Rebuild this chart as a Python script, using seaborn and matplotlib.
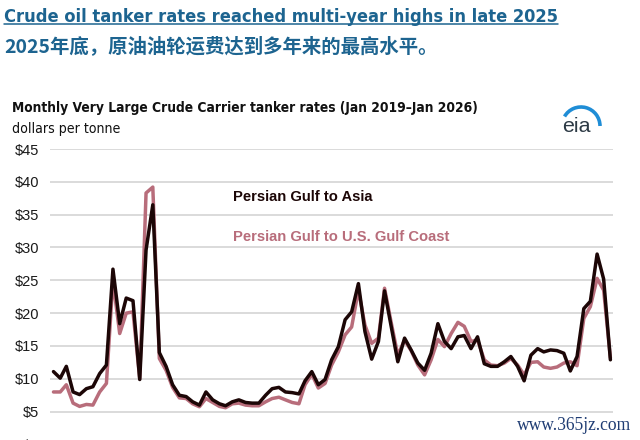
import numpy as np
import pandas as pd
import matplotlib
matplotlib.use("Agg")
import matplotlib.pyplot as plt
import seaborn as sns
from matplotlib.patches import Arc
from matplotlib.lines import Line2D

# ---------------- data (dollars per tonne, Jan 2019 - Jan 2026) ----------------
months = pd.date_range("2019-01-01", periods=85, freq="MS")

asia = [11.1, 10.1, 11.9, 8.0, 7.6, 8.5, 8.8, 10.8, 12.1, 26.7,
        18.4, 22.3, 21.9, 9.9, 29.6, 36.5, 14.0, 11.9, 9.1, 7.5,
        7.3, 6.5, 6.0, 8.0, 6.8, 6.2, 5.9, 6.5, 6.8, 6.4,
        6.3, 6.3, 7.5, 8.5, 8.7, 8.0, 7.9, 7.7, 9.7, 11.1,
        9.1, 9.9, 12.9, 14.9, 19.0, 20.2, 24.5, 17.2, 13.0, 15.7,
        23.4, 17.9, 12.6, 16.2, 14.4, 12.4, 11.3, 13.9, 18.4, 15.7,
        14.6, 16.4, 16.6, 14.6, 16.4, 12.3, 11.9, 11.9, 12.6, 13.4,
        11.9, 9.7, 13.6, 14.6, 14.1, 14.4, 14.3, 13.9, 11.2, 13.4,
        20.7, 21.8, 29.0, 25.2, 12.9]

us_gulf = [8.0, 8.0, 9.1, 6.3, 5.8, 6.1, 6.0, 8.0, 9.3, 25.0,
           16.9, 20.0, 20.2, 10.0, 38.3, 39.2, 13.1, 11.3, 8.7, 7.1,
           7.0, 6.2, 5.75, 7.0, 6.4, 5.8, 5.6, 6.2, 6.3, 6.0,
           5.9, 5.9, 6.5, 7.0, 7.2, 6.8, 6.4, 6.2, 9.1, 10.7,
           8.6, 9.3, 12.1, 14.1, 16.7, 17.9, 23.5, 18.2, 15.4, 16.2,
           23.8, 18.5, 13.6, 15.9, 14.3, 12.1, 10.6, 12.9, 16.0, 14.9,
           16.9, 18.6, 18.0, 15.7, 15.9, 12.9, 12.1, 12.0, 12.4, 13.1,
           12.1, 10.6, 12.5, 12.6, 11.8, 11.6, 11.8, 12.4, 12.6, 12.0,
           19.2, 21.0, 25.3, 23.5, 13.2]

series_names = ["Persian Gulf to Asia", "Persian Gulf to U.S. Gulf Coast"]
y_ticks = [0, 5, 10, 15, 20, 25, 30, 35, 40, 45]
y_labels = ["$0", "$5", "$10", "$15", "$20", "$25", "$30", "$35", "$40", "$45"]

title_en = "Crude oil tanker rates reached multi-year highs in late 2025"
title_zh = "2025年底，原油油轮运费达到多年来的最高水平。"
chart_title = "Monthly Very Large Crude Carrier tanker rates (Jan 2019\u2013Jan 2026)"
unit_label = "dollars per tonne"
watermark = "www.365jz.com"

# ---------------- style ----------------
sns.set_style("white")
plt.rcParams["font.family"] = ["Liberation Sans", "DejaVu Sans"]

BLUE = "#1d6490"
DARK = "#1c0606"
PINK = "#b86d7b"
COND = ["DejaVu Sans"]

W, H = 640, 440
fig = plt.figure(figsize=(6.4, 4.4), dpi=100)
fig.patch.set_facecolor("white")

def fx(x):
    return x / W

def fy(y):
    return 1 - y / H

ax = fig.add_axes([fx(50), -4.5 / H, 563 / W, 295.5 / H])

df = pd.DataFrame({"month": months, series_names[0]: asia, series_names[1]: us_gulf})
long = df.melt("month", var_name="route", value_name="rate")
sns.lineplot(data=long, x="month", y="rate", hue="route",
             hue_order=[series_names[1], series_names[0]],
             palette={series_names[0]: DARK, series_names[1]: PINK},
             linewidth=2.5, legend=False, ax=ax)

ax.set_xlim(pd.Timestamp("2018-12-16"), pd.Timestamp("2026-01-13"))
ax.set_ylim(0, 45)
ax.set_yticks(y_ticks)
ax.set_yticklabels(y_labels)
ax.set_xticks([])
ax.set_xlabel("")
ax.set_ylabel("")
ax.grid(axis="y", color="#d4d4d4", linewidth=1.2)
ax.set_axisbelow(True)
for s in ax.spines.values():
    s.set_visible(False)
ax.tick_params(axis="y", length=0, pad=7.7, labelsize=10.5, labelcolor="#1a1a1a")

# ---------------- texts ----------------
def fit(t, target_px):
    fig.canvas.draw()
    r = fig.canvas.get_renderer()
    w = t.get_window_extent(r).width
    t.set_fontsize(t.get_fontsize() * target_px / w)

t1 = fig.text(fx(4), fy(21.5), title_en, fontsize=16, fontweight="bold",
              fontstretch="condensed", color=BLUE, family=COND,
              va="baseline", ha="left")
fit(t1, 554)
fig.add_artist(Line2D([fx(4), fx(558)], [fy(24.5), fy(24.5)], color=BLUE, lw=1.1))

t2 = fig.text(fx(4), fy(46), title_zh, fontsize=14, fontweight="bold",
              color=BLUE, family=["Noto Sans CJK SC", "DejaVu Sans"], va="center", ha="left")
fit(t2, 436)

t3 = fig.text(fx(11.5), fy(107.5), chart_title, fontsize=12, fontweight="bold",
              fontstretch="condensed", color="#111111", family=COND,
              va="center", ha="left")
fit(t3, 466)

t4 = fig.text(fx(11.5), fy(128.5), unit_label, fontsize=11,
              fontstretch="condensed", color="#111111", family=COND,
              va="center", ha="left")
fit(t4, 108)

t5 = fig.text(fx(233), fy(196.7), series_names[0], fontsize=12, fontweight="bold",
              color=DARK, va="center", ha="left")
fit(t5, 139)

t6 = fig.text(fx(233), fy(236.7), series_names[1], fontsize=12, fontweight="bold",
              color=PINK, va="center", ha="left")
fit(t6, 216)

# eia logo
t7 = fig.text(fx(562), fy(127), "eia", fontsize=14, color="#2d3a45",
              va="center", ha="left")
fit(t7, 29)
logo_ax = fig.add_axes([0, 0, 1, 1], facecolor="none")
logo_ax.set_xlim(0, W)
logo_ax.set_ylim(H, 0)
logo_ax.axis("off")
logo_ax.add_patch(Arc((581, 126), 38, 38, theta1=210, theta2=360,
                      color="#1f8dd6", lw=2.6))

t8 = fig.text(fx(517), fy(425), watermark, fontsize=12, color="#1f3c73",
              family=["Liberation Serif", "DejaVu Serif"], va="center", ha="left")
fit(t8, 115)

fig.savefig("out.png", dpi=100, facecolor="white")
